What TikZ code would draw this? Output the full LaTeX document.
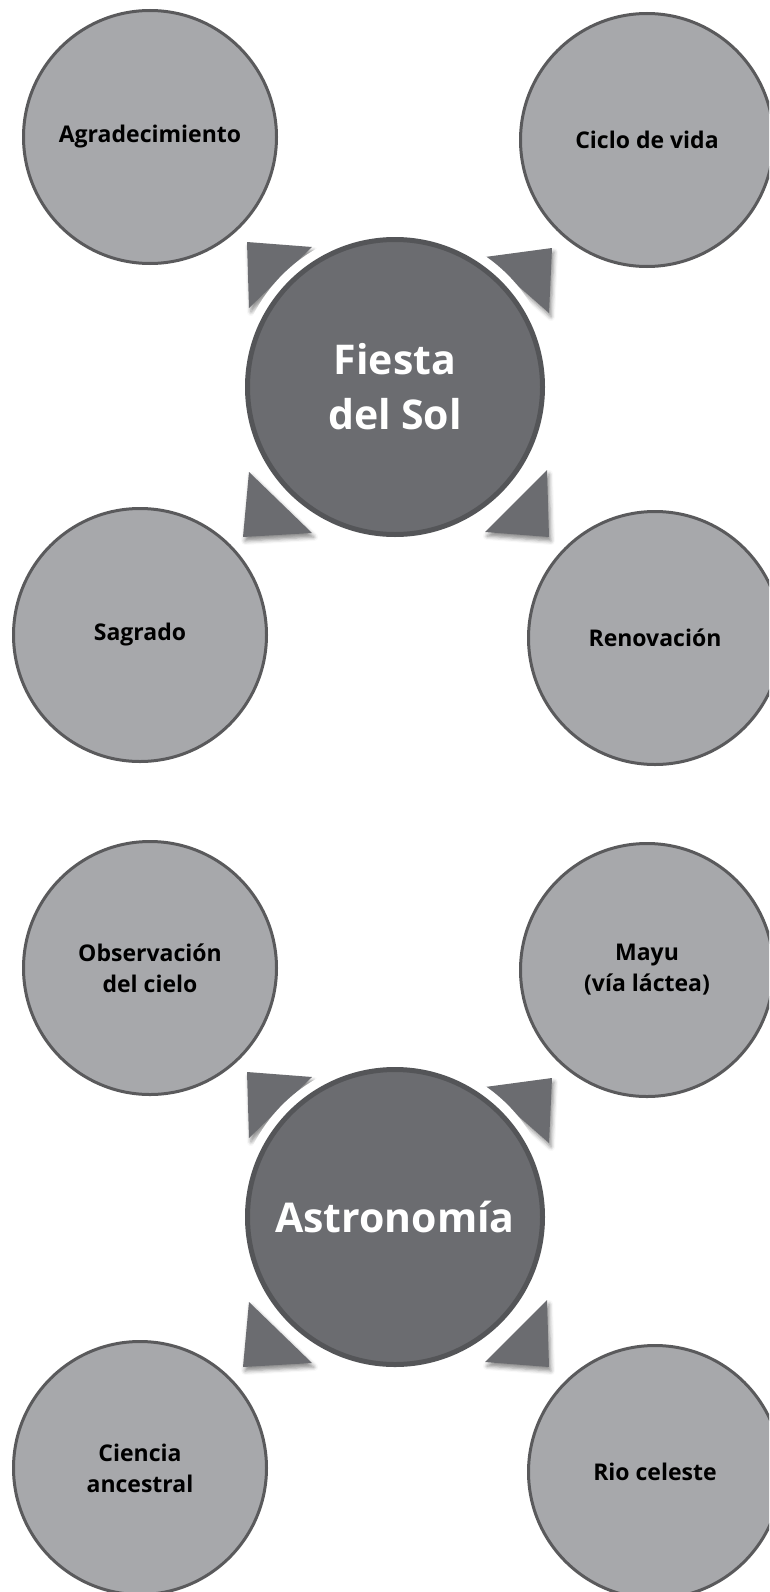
\documentclass[tikz,border=0pt]{standalone}
\usepackage{fontspec}
\setmainfont{Open Sans}
\usetikzlibrary{shadows.blur}
\definecolor{leaffill}{RGB}{167,168,171}
\definecolor{leafline}{RGB}{90,90,92}
\definecolor{hubfill}{RGB}{107,108,112}
\definecolor{hubline}{RGB}{84,85,88}
\begin{document}
\begin{tikzpicture}[x=1pt,y=-1pt,
  leaf/.style={circle,draw=leafline,line width=3pt,fill=leaffill,minimum size=253pt,align=center,font=\bfseries\fontsize{23}{31}\selectfont},
  hub/.style={circle,draw=hubline,line width=5pt,fill=hubfill,minimum size=295pt,align=center,text=white,font=\bfseries\fontsize{41}{55}\selectfont},
  halo/.style={circle,fill=white,minimum size=318pt},
  tip/.style={fill=hubfill,blur shadow={shadow xshift=2pt,shadow yshift=-4pt,shadow blur radius=4pt,shadow opacity=45}}]
%\draw[help lines] (0,0) grid (769,1592);
\useasboundingbox (0,0) rectangle (769,1592);
\clip (0,0) rectangle (769,1592);
% Fiesta del Sol
\node (agradecimiento) [leaf] at (150,137) {Agradecimiento};
\node (ciclo) [leaf] at (647,140) {Ciclo de vida};
\node (sagrado) [leaf] at (140,635) {Sagrado};
\node (renovacion) [leaf] at (655,638) {Renovación};
\fill [tip] (247,242) -- (312,247) -- (249,308) -- cycle;
\fill [tip] (552,248) -- (485,257) -- (549,313) -- cycle;
\fill [tip] (243,537) -- (249,472) -- (312,533) -- cycle;
\fill [tip] (549,537) -- (547,470) -- (485,532) -- cycle;
\node (fiesta-halo) [halo] at (395,387) {};
\node (fiesta) [hub] at (395,387) {Fiesta\\del Sol};
% Astronomia
\node (observacion) [leaf] at (150,968) {Observación\\del cielo};
\node (mayu) [leaf] at (647,970) {Mayu\\(vía láctea)};
\node (ciencia) [leaf] at (140,1468) {Ciencia\\ancestral};
\node (rio) [leaf] at (655,1472) {Rio celeste};
\fill [tip] (247,1072) -- (312,1077) -- (249,1138) -- cycle;
\fill [tip] (552,1078) -- (485,1087) -- (549,1143) -- cycle;
\fill [tip] (243,1367) -- (249,1302) -- (312,1363) -- cycle;
\fill [tip] (549,1367) -- (547,1300) -- (485,1362) -- cycle;
\node (astronomia-halo) [halo] at (395,1217) {};
\node (astronomia) [hub] at (395,1217) {Astronomía};
\end{tikzpicture}
\end{document}
